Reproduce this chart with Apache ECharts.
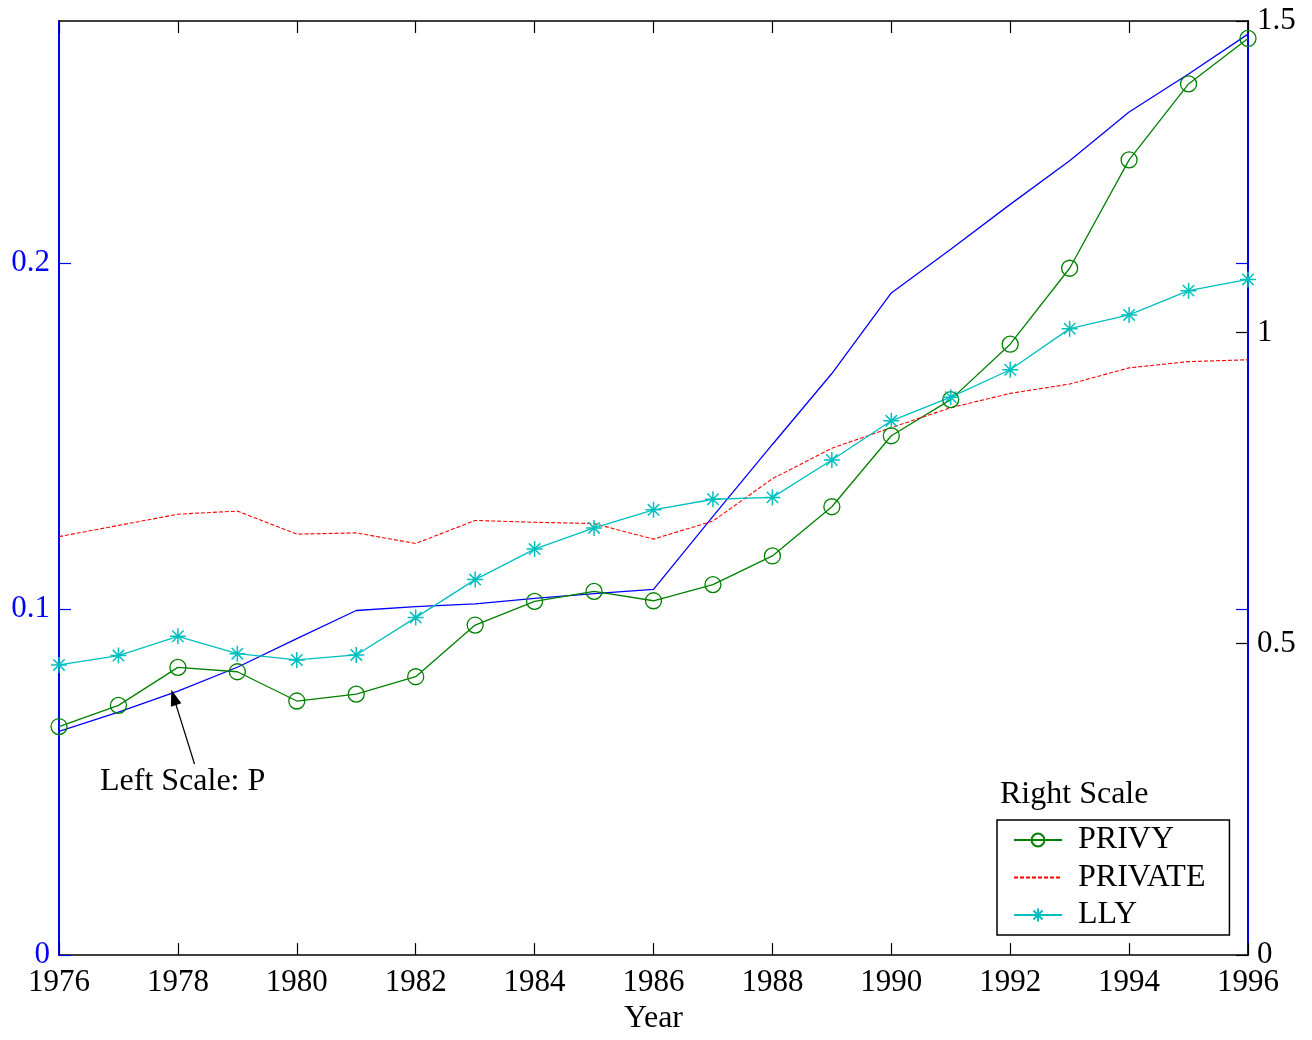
<!DOCTYPE html>
<html>
<head>
<meta charset="utf-8">
<script src="https://cdn.jsdelivr.net/npm/echarts@6/dist/echarts.min.js"></script>
<style>
html,body{margin:0;padding:0;background:#fff;overflow:hidden;}
#chart{width:1312px;height:1040px;}
</style>
</head>
<body>
<div id="chart"></div>
<script>
const years = [1976,1977,1978,1979,1980,1981,1982,1983,1984,1985,1986,1987,1988,1989,1990,1991,1992,1993,1994,1995,1996];
const P = [0.0647,0.0702,0.0763,0.0832,0.0915,0.0996,0.1007,0.1015,0.1031,0.1045,0.1057,0.1268,0.1476,0.1681,0.1914,0.2040,0.2170,0.2296,0.2437,0.2547,0.2662];
const PRIVY = [0.367,0.401,0.462,0.455,0.408,0.419,0.447,0.530,0.568,0.584,0.569,0.595,0.641,0.720,0.834,0.892,0.981,1.103,1.277,1.399,1.472];
const PRIVATE = [0.672,0.690,0.708,0.713,0.676,0.678,0.661,0.698,0.695,0.693,0.668,0.697,0.765,0.814,0.847,0.879,0.902,0.917,0.943,0.953,0.956];
const LLY = [0.466,0.481,0.512,0.484,0.474,0.482,0.542,0.603,0.652,0.686,0.715,0.732,0.735,0.795,0.858,0.896,0.940,1.006,1.028,1.067,1.085];
const leftTicks = [0, 0.1, 0.2];
const seriesNames = ['PRIVY','PRIVATE','LLY'];

const FONT = 'Liberation Serif';
const pairs = arr => years.map((y, i) => [y, arr[i]]);
const STAR = 'path://M8,0 L8,16 M0,8 L16,8 M2.3,2.3 L13.7,13.7 M2.3,13.7 L13.7,2.3';

const chart = echarts.init(document.getElementById('chart'));
chart.setOption({
  animation: false,
  backgroundColor: '#fff',
  grid: {left: 59, right: 64, top: 21, bottom: 80, containLabel: false, show: false},
  xAxis: [
    {
      type: 'value', min: 1976, max: 1996, interval: 2, position: 'bottom',
      axisLine: {onZero: false, lineStyle: {color: '#000', width: 1.5}},
      axisTick: {inside: true, length: 12, lineStyle: {color: '#000', width: 1.2}},
      axisLabel: {color: '#000', fontFamily: FONT, fontSize: 31, margin: 12, formatter: v => String(v)},
      splitLine: {show: false},
      name: 'Year', nameLocation: 'middle', nameGap: 46,
      nameTextStyle: {color: '#000', fontFamily: FONT, fontSize: 32}
    },
    {
      type: 'value', min: 1976, max: 1996, interval: 2, position: 'top',
      axisLine: {show: true, onZero: false, lineStyle: {color: '#000', width: 1.5}},
      axisTick: {show: true, inside: true, length: 12, lineStyle: {color: '#000', width: 1.2}},
      axisLabel: {show: false},
      splitLine: {show: false}
    }
  ],
  yAxis: [
    {
      type: 'value', min: 0, max: 0.27, interval: 0.1, position: 'left',
      axisLine: {show: true, onZero: false, lineStyle: {color: '#0000ff', width: 2}},
      axisTick: {show: true, inside: true, length: 12, customValues: leftTicks, lineStyle: {color: '#0000ff', width: 1.2}},
      axisLabel: {color: '#0000ff', fontFamily: FONT, fontSize: 31, margin: 9, customValues: leftTicks},
      splitLine: {show: false}
    },
    {
      type: 'value', min: 0, max: 1.5, interval: 0.5, position: 'right',
      axisLine: {show: true, onZero: false, lineStyle: {color: '#0000ee', width: 2}},
      axisTick: {show: true, inside: true, length: 12, lineStyle: {color: '#000', width: 1.2}},
      axisLabel: {color: '#000', fontFamily: FONT, fontSize: 31, margin: 9},
      splitLine: {show: false}
    },
    {
      type: 'value', min: 0, max: 0.27, interval: 0.1, position: 'right',
      axisLine: {show: false, onZero: false},
      axisTick: {show: true, inside: true, length: 12, customValues: [0.1, 0.2], lineStyle: {color: '#0000ff', width: 1.2}},
      axisLabel: {show: false},
      splitLine: {show: false}
    }
  ],
  legend: {
    data: seriesNames,
    orient: 'vertical', left: 997, top: 820,
    itemWidth: 48, itemHeight: 16, itemGap: 5.5,
    padding: [4, 24, 4, 16],
    borderColor: '#000', borderWidth: 1.5, backgroundColor: '#fff',
    textStyle: {color: '#000', fontFamily: FONT, fontSize: 32, lineHeight: 31, padding: [0, 0, 0, 11]}
  },
  graphic: [
    {type: 'text', left: 1000, top: 779, style: {text: 'Right Scale', font: '32px "Liberation Serif"', fill: '#000'}},
    {type: 'text', left: 100, top: 766, style: {text: 'Left Scale: P', font: '32px "Liberation Serif"', fill: '#000'}}
  ],
  series: [
    {
      name: 'P', type: 'line', xAxisIndex: 0, yAxisIndex: 0, data: pairs(P),
      showSymbol: false, symbol: 'none',
      lineStyle: {color: '#0000ff', width: 1.3},
      itemStyle: {color: '#0000ff'},
      silent: true,
      markLine: {
        silent: true,
        symbol: ['none', 'triangle'], symbolSize: [11, 16],
        label: {show: false},
        lineStyle: {color: '#000', width: 1.3, type: 'solid'},
        itemStyle: {color: '#000'},
        data: [[{coord: [1978.28, 0.0552]}, {coord: [1977.93, 0.0745]}]]
      }
    },
    {
      name: 'PRIVY', type: 'line', xAxisIndex: 0, yAxisIndex: 1, data: pairs(PRIVY),
      symbol: 'circle', symbolSize: 16,
      lineStyle: {color: '#008000', width: 1.3},
      itemStyle: {color: 'rgba(0,0,0,0)', borderColor: '#008000', borderWidth: 1.3}
    },
    {
      name: 'PRIVATE', type: 'line', xAxisIndex: 0, yAxisIndex: 1, data: pairs(PRIVATE),
      symbol: 'none', showSymbol: false,
      lineStyle: {color: '#ff0000', width: 1.1, type: [4, 2]},
      itemStyle: {color: 'rgba(0,0,0,0)', borderColor: 'rgba(0,0,0,0)'}
    },
    {
      name: 'LLY', type: 'line', xAxisIndex: 0, yAxisIndex: 1, data: pairs(LLY),
      symbol: STAR, symbolSize: 16,
      lineStyle: {color: '#00bfbf', width: 1.3},
      itemStyle: {color: '#00bfbf', borderColor: '#00bfbf', borderWidth: 1.5}
    }
  ]
});
</script>
</body>
</html>
